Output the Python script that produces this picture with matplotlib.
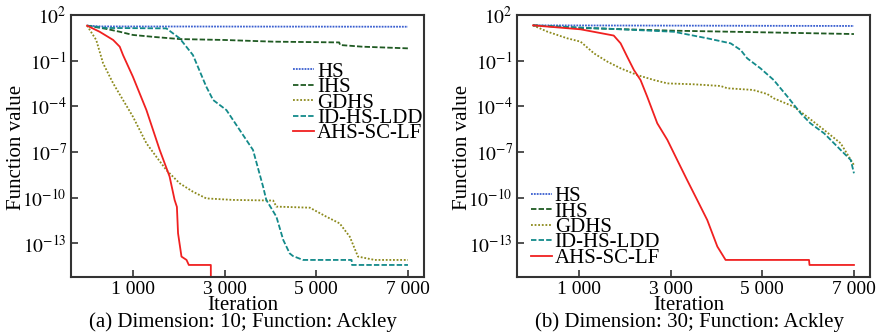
import numpy as np
import matplotlib
matplotlib.use("Agg")
import matplotlib.pyplot as plt
from matplotlib.ticker import FixedLocator, FuncFormatter, NullLocator

plt.rcParams['font.family'] = ['Liberation Serif', 'DejaVu Serif']
plt.rcParams['mathtext.fontset'] = 'stix'

names = ["HS", "IHS", "GDHS", "ID-HS-LDD", "AHS-SC-LF"]
colors = ["#3a5fd0", "#1f5a22", "#8c8a1c", "#138a8a", "#f02020"]
styles = [(0, (1, 0.6)), (0, (3, 1.2)), (0, (1, 1)), (0, (3, 1.2)), "-"]

# panel (a): dimension 10, (iteration, log10 value)
a_hs = [(0, 1.30), (300, 1.25), (7000, 1.23)]
a_ihs = [(0, 1.30), (400, 1.10), (713, 0.90), (1000, 0.69), (1500, 0.55), (2020, 0.42),
         (3000, 0.36), (4060, 0.25), (5500, 0.20), (5520, 0.03), (6000, -0.08), (7000, -0.19)]
a_gdhs = [(0, 1.30), (200, 0.36), (350, -1.17), (570, -2.49), (785, -3.58), (1000, -4.67),
          (1295, -6.42), (1510, -7.30), (1730, -8.18), (2020, -9.05), (2310, -9.60),
          (2600, -10.04), (3185, -10.14), (4060, -10.18), (4130, -10.58), (4860, -10.65),
          (5220, -11.24), (5510, -11.68), (5730, -12.55), (5910, -13.86), (6275, -14.08),
          (7000, -14.08)]
a_idhs = [(0, 1.30), (400, 1.15), (1730, 1.12), (2020, 0.47), (2310, -0.63), (2600, -2.70),
          (2750, -3.58), (3040, -4.24), (3330, -5.55), (3620, -6.86), (3840, -9.27),
          (3910, -10.14), (4130, -11.24), (4280, -12.77), (4420, -13.65), (4490, -13.82),
          (4710, -14.08), (5770, -14.08), (5780, -14.41), (7000, -14.41)]
a_ahs = [(0, 1.30), (275, 0.90), (570, 0.36), (713, -0.08), (785, -0.63), (1000, -2.05),
         (1295, -4.24), (1585, -6.86), (1800, -8.60), (1910, -10.14), (1960, -10.60),
         (1985, -12.33), (2060, -13.86), (2170, -14.08), (2220, -14.41), (2700, -14.41),
         (2705, -20.0), (7000, -20.0)]

# panel (b): dimension 30
b_hs = [(0, 1.32), (7000, 1.28)]
b_ihs = [(0, 1.32), (1000, 1.15), (3070, 0.97), (5250, 0.85), (7000, 0.75)]
b_gdhs = [(0, 1.32), (310, 0.91), (745, 0.47), (1036, 0.25), (1330, -0.52), (1620, -1.06),
          (1910, -1.50), (2270, -1.94), (2640, -2.27), (2930, -2.49), (3510, -2.55),
          (4090, -2.66), (4240, -2.81), (4800, -2.92), (5110, -3.19), (5250, -3.47),
          (5690, -4.02), (5980, -4.68), (6350, -5.55), (6710, -6.42), (7000, -7.85)]
b_idhs = [(0, 1.32), (1620, 1.10), (3070, 0.90), (3800, 0.47), (4310, 0.14), (4530, -0.30),
          (4670, -0.84), (4960, -1.50), (5250, -2.27), (5550, -3.36), (5840, -4.46),
          (6050, -5.11), (6350, -5.77), (6710, -6.86), (6930, -7.52), (7000, -8.39)]
b_ahs = [(0, 1.32), (1036, 1.06), (1690, 0.69), (1760, 0.65), (1910, 0.14), (2054, -0.74),
         (2200, -1.61), (2345, -2.27), (2490, -3.36), (2710, -5.11), (2930, -6.20),
         (3145, -7.52), (3360, -8.83), (3580, -10.14), (3800, -11.46), (4020, -13.20),
         (4200, -14.08), (6020, -14.08), (6030, -14.41), (7000, -14.41)]

panels = [
    ([a_hs, a_ihs, a_gdhs, a_idhs, a_ahs], "(a) Dimension: 10; Function: Ackley", (0.629, 0.82)),
    ([b_hs, b_ihs, b_gdhs, b_idhs, b_ahs], "(b) Dimension: 30; Function: Ackley", (0.039, 0.345)),
]

fig = plt.figure(figsize=(8.81, 3.35), dpi=100)
lefts = [71 / 881, 517 / 881]
width = 353 / 881
bottom = 1 - 277 / 335
height = 262 / 335

yticks = [1e2, 1e-1, 1e-4, 1e-7, 1e-10, 1e-13]

for i, (series, caption, legpos) in enumerate(panels):
    ax = fig.add_axes([lefts[i], bottom, width, height])
    for s, name, c, ls in zip(series, names, colors, styles):
        pts = np.array(s)
        ax.plot(pts[:, 0], 10 ** pts[:, 1], color=c, linestyle=ls, lw=1.3, label=name)
    ax.set_yscale('log')
    ax.set_ylim(10 ** -15.2, 1e2)
    ax.set_xlim(-350, 7350)
    ax.yaxis.set_major_locator(FixedLocator(yticks))
    ax.yaxis.set_minor_locator(NullLocator())
    ax.yaxis.set_major_formatter(FuncFormatter(
        lambda v, p: r'$10^{%d}$' % int(round(np.log10(v)))))
    ax.xaxis.set_major_locator(FixedLocator([1000, 3000, 5000, 7000]))
    ax.xaxis.set_major_formatter(FuncFormatter(lambda v, p: f"{int(v):,}".replace(",", " ")))
    ax.tick_params(direction='in', length=5, width=1.2, labelsize=14, pad=3, color='#333333')
    for sp in ax.spines.values():
        sp.set_linewidth(1.5)
        sp.set_color('#333333')
    leg = ax.legend(loc='upper left', bbox_to_anchor=legpos, frameon=False, fontsize=15,
                    handlelength=1.0, handletextpad=0.15, labelspacing=-0.2,
                    borderpad=0, borderaxespad=0)
    cx = lefts[i] + width / 2 - 0.005
    fig.text(cx, 1 - 305 / 335, "Iteration", ha='center', va='center', fontsize=15)
    fig.text(cx, 1 - 322 / 335, caption, ha='center', va='center', fontsize=15)
    fig.text([17 / 881, 463 / 881][i], 1 - 147 / 335, "Function value", rotation=90,
             ha='center', va='center', fontsize=15)

fig.savefig("out.png", dpi=100)
